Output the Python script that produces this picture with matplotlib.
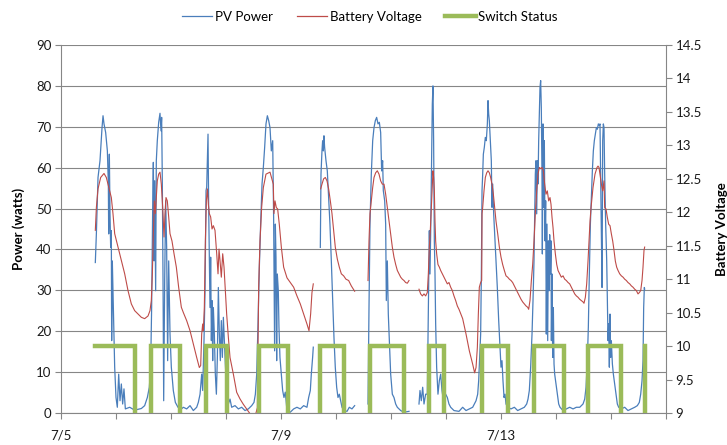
import numpy as np
import matplotlib
matplotlib.use("Agg")
import matplotlib.pyplot as plt
from matplotlib.lines import Line2D

plt.rcParams['font.family'] = ['Lato', 'DejaVu Sans']

NAN = float('nan')

# ── Data (time in days after 7/5 00:00) ────────────────────────────────────
pv_day = [
    0.624, 0.643, 0.673, 0.709, 0.746, 0.764, 0.782, 0.812, 0.843, 0.861,
    0.867, 0.879, 0.891, 0.903, 0.915, 0.921, 0.933, 0.952, 0.976, 1.000,
    1.024, 1.049, 1.073, 1.097, 1.121, 1.145, 1.170, 1.249, 1.339, 1.461,
    1.521, 1.570, 1.606, 1.630, 1.648, 1.667, 1.679, 1.691, 1.703, 1.721,
    1.733, 1.751, 1.776, 1.800, 1.818, 1.830, 1.842, 1.855, 1.867, 1.885,
    1.903, 1.921, 1.939, 1.958, 1.982, 2.006, 2.042, 2.079, 2.127, 2.188,
    2.225, 2.285, 2.346, 2.406, 2.467, 2.497, 2.528, 2.558, 2.576, 2.600,
    2.619, 2.637, 2.649, 2.661, 2.673, 2.685, 2.697, 2.709, 2.721, 2.734,
    2.746, 2.758, 2.770, 2.788, 2.806, 2.825, 2.843, 2.861, 2.879, 2.897,
    2.915, 2.934, 2.952, 2.970, 2.988, 3.012, 3.043, 3.073, 3.103, 3.164,
    3.225, 3.285, 3.346, 3.406, 3.467, 3.509, 3.534, 3.558, 3.582, 3.606,
    3.630, 3.655, 3.679, 3.703, 3.727, 3.752, 3.776, 3.800, 3.824, 3.849,
    3.866, 3.884, 3.897, 3.909, 3.921, 3.933, 3.951, 3.963, 3.981, 4.006,
    4.030, 4.054, 4.078, 4.109, 4.169, 4.230, 4.290, 4.351, 4.412, 4.472,
    4.503, 4.533, 4.551, 4.575, 4.587, 4.650,
    4.715, 4.727, 4.745, 4.757, 4.769, 4.781, 4.793, 4.818, 4.842, 4.866,
    4.890, 4.915, 4.939, 4.963, 4.987, 5.012, 5.036, 5.060, 5.084, 5.109,
    5.145, 5.200, 5.242, 5.290, 5.339, 5.460,
    5.582, 5.600, 5.618, 5.642, 5.667, 5.691, 5.715, 5.739, 5.764, 5.788,
    5.812, 5.830, 5.848, 5.860, 5.885, 5.903, 5.915, 5.933, 5.951, 5.970,
    5.994, 6.024, 6.054, 6.085, 6.115, 6.176, 6.236, 6.327, 6.420,
    6.509, 6.527, 6.551, 6.576, 6.600, 6.630, 6.660, 6.679, 6.697, 6.709,
    6.721, 6.739, 6.751, 6.763, 6.775, 6.788, 6.800, 6.812, 6.830, 6.854,
    6.879, 6.903, 6.927, 6.963, 6.994, 7.024, 7.054, 7.085, 7.145, 7.236,
    7.303, 7.364, 7.424, 7.485, 7.515, 7.546, 7.576, 7.594, 7.612, 7.630,
    7.643, 7.655, 7.667, 7.679, 7.697, 7.715, 7.733, 7.752, 7.764, 7.776,
    7.788, 7.806, 7.824, 7.836, 7.849, 7.867, 7.885, 7.909, 7.933, 7.958,
    7.982, 8.000, 8.018, 8.036, 8.055, 8.073, 8.091, 8.121, 8.182, 8.243,
    8.303, 8.364, 8.424, 8.467, 8.491, 8.515, 8.539, 8.564, 8.582, 8.600,
    8.612, 8.624, 8.636, 8.649, 8.661, 8.673, 8.685, 8.697, 8.709, 8.721,
    8.733, 8.745, 8.752, 8.764, 8.776, 8.788, 8.800, 8.812, 8.824, 8.836,
    8.849, 8.861, 8.873, 8.885, 8.897, 8.909,
    8.916, 8.928, 8.940, 8.952, 8.964, 8.976, 9.000, 9.025, 9.049, 9.073,
    9.128, 9.188, 9.249, 9.310, 9.370, 9.431, 9.491, 9.522, 9.546, 9.570,
    9.588, 9.606, 9.625, 9.643, 9.661, 9.679, 9.697, 9.716, 9.734, 9.752,
    9.770, 9.788, 9.800, 9.812, 9.825, 9.837, 9.849, 9.861, 9.873, 9.885,
    9.903, 9.922, 9.934, 9.946, 9.958, 9.970, 9.982, 9.994, 10.006, 10.025,
    10.043, 10.067, 10.091, 10.115, 10.140, 10.188, 10.249, 10.309, 10.370, 10.431,
    10.479, 10.515, 10.540, 10.564, 10.582, 10.594, 10.606, 10.612,
]
pv_watts = [
    36.8, 43.8, 57.6, 61.7, 69.8, 72.7, 70.7, 68.6, 64.1, 56.0,
    43.8, 63.3, 48.7, 40.5, 44.6, 17.7, 37.2, 25.8, 11.2, 3.8,
    1.4, 9.5, 3.0, 7.1, 2.2, 5.9, 1.0, 1.4, 0.7, 1.1,
    1.8, 3.8, 6.3, 11.2, 25.8, 50.3, 61.3, 37.2, 56.8, 29.9,
    61.7, 66.6, 71.1, 73.3, 69.0, 72.3, 56.8, 32.4, 3.0, 32.4,
    51.9, 40.5, 12.8, 37.2, 19.3, 11.2, 5.5, 2.6, 1.4, 1.0,
    1.4, 1.0, 1.8, 0.6, 1.4, 2.6, 4.6, 9.5, 5.5, 17.7,
    29.9, 54.4, 55.2, 61.7, 68.2, 50.3, 38.1, 25.8, 38.1, 17.7,
    27.5, 12.8, 25.8, 19.3, 9.5, 4.6, 13.6, 30.7, 19.3, 12.8,
    22.6, 13.6, 23.4, 17.7, 12.0, 5.5, 2.2, 3.4, 1.4, 1.8,
    1.0, 1.4, 0.6, 1.0, 1.8, 2.6, 4.6, 9.5, 21.8, 35.6,
    46.2, 56.0, 60.1, 65.0, 70.7, 72.7, 71.5, 69.8, 64.1, 66.6,
    47.8, 15.2, 46.2, 38.0, 12.8, 34.0, 29.9, 21.0, 13.6, 9.5,
    5.5, 3.8, 5.1, 0.6, 0.2, 1.0, 1.4, 1.0, 1.8, 1.4,
    3.8, 5.5, 9.5, 13.6, 16.1, NAN,
    40.5, 58.4, 64.1, 66.6, 64.1, 67.8, 65.0, 61.7, 59.2, 52.7,
    46.2, 37.2, 27.5, 18.5, 11.2, 6.3, 3.8, 4.6, 3.0, 1.4,
    0.6, 0.4, 1.4, 1.0, 1.8, NAN,
    2.2, 25.8, 46.2, 58.4, 66.6, 69.8, 71.5, 72.3, 70.7, 71.1,
    68.6, 59.2, 61.7, 54.4, 51.9, 46.2, 27.5, 37.2, 24.2, 17.7,
    9.5, 4.6, 3.8, 2.2, 1.4, 0.6, 0.2, 0.4, NAN,
    2.2, 5.5, 3.0, 6.3, 2.2, 4.6, 4.6, 25.8, 44.6, 34.0,
    43.8, 62.5, 75.5, 80.0, 66.6, 42.1, 34.0, 21.8, 11.2, 4.6,
    7.9, 9.5, 5.5, 2.2, 4.6, 3.8, 2.2, 1.4, 0.6, 0.4,
    1.4, 0.6, 1.0, 1.4, 2.2, 3.0, 4.6, 7.9, 13.6, 19.3,
    34.0, 54.4, 58.4, 63.3, 65.0, 67.4, 66.6, 70.7, 76.4, 73.1,
    71.5, 66.6, 61.7, 50.3, 56.0, 48.7, 43.8, 37.2, 30.7, 22.6,
    16.1, 11.2, 12.8, 7.9, 3.8, 4.6, 2.2, 1.4, 1.0, 1.4,
    0.6, 1.0, 1.4, 2.2, 3.4, 5.5, 11.2, 19.3, 27.5, 37.2,
    48.7, 58.4, 61.7, 48.7, 61.7, 56.0, 66.6, 73.1, 79.6, 81.3,
    74.7, 58.4, 38.9, 70.7, 50.3, 66.6, 42.1, 51.9, 19.3, 46.2,
    17.7, 42.1, 29.9, 43.6, 34.0, 42.1,
    17.7, 34.0, 13.6, 25.8, 12.0, 9.5, 7.1, 4.6, 2.2, 1.4,
    0.6, 1.0, 1.4, 1.0, 1.4, 1.4, 2.2, 3.4, 6.3, 12.8,
    21.0, 34.0, 46.2, 52.7, 59.2, 64.1, 66.6, 68.2, 69.8, 69.4,
    70.7, 70.3, 70.7, 58.4, 43.8, 30.7, 66.6, 70.7, 69.8, 58.4,
    46.2, 37.2, 27.5, 17.7, 21.8, 11.2, 24.2, 13.6, 17.7, 12.0,
    9.5, 7.1, 4.6, 2.2, 1.4, 1.0, 1.4, 0.6, 1.0, 1.4,
    1.8, 2.6, 4.6, 7.9, 12.8, 25.8, 30.7, 30.3,
]

batt_day = [
    0.624, 0.643, 0.673, 0.721, 0.782, 0.824, 0.855, 0.885, 0.915, 0.945,
    0.976, 1.036, 1.097, 1.158, 1.218, 1.279, 1.339, 1.400, 1.461, 1.521,
    1.582, 1.618, 1.642, 1.661, 1.679, 1.697, 1.715, 1.733, 1.751, 1.776,
    1.800, 1.824, 1.849, 1.873, 1.891, 1.909, 1.933, 1.958, 1.982, 2.018,
    2.055, 2.097, 2.139, 2.188,
    2.225, 2.285, 2.346, 2.406, 2.467, 2.515, 2.540, 2.558, 2.576, 2.588,
    2.606, 2.625, 2.643, 2.661, 2.679, 2.697, 2.721, 2.746, 2.770, 2.800,
    2.831, 2.855, 2.873, 2.891, 2.915, 2.940, 2.964, 2.988, 3.012, 3.043,
    3.073, 3.134, 3.194, 3.255, 3.315, 3.376, 3.418, 3.470, 3.530, 3.570,
    3.594, 3.618, 3.648, 3.679, 3.727, 3.800,
    3.860, 3.872, 3.891, 3.915, 3.939, 3.969, 4.006, 4.048, 4.109, 4.169,
    4.230, 4.290, 4.351, 4.412, 4.472, 4.509, 4.539, 4.563, 4.587, 4.650,
    4.721, 4.745, 4.775, 4.806, 4.836, 4.866, 4.897, 4.927, 4.957, 4.987,
    5.024, 5.060, 5.097, 5.139, 5.181, 5.230, 5.278, 5.339, 5.460,
    5.582, 5.600, 5.618, 5.642, 5.667, 5.691, 5.721, 5.751, 5.782, 5.812,
    5.842, 5.873, 5.903, 5.933, 5.964, 5.994, 6.024, 6.054, 6.085, 6.115,
    6.145, 6.176, 6.206, 6.236, 6.266, 6.297, 6.327, 6.420,
    6.509, 6.539, 6.570, 6.600, 6.630, 6.660, 6.679, 6.697, 6.715, 6.733,
    6.751, 6.763, 6.775, 6.788, 6.800, 6.812, 6.830, 6.854, 6.879, 6.903,
    6.933, 6.963, 6.994, 7.024, 7.054, 7.085, 7.115, 7.145, 7.176, 7.206,
    7.236,
    7.303, 7.364, 7.424, 7.485, 7.521, 7.546, 7.570, 7.588, 7.606, 7.630,
    7.649, 7.655, 7.667, 7.691, 7.715, 7.740, 7.764, 7.788, 7.812, 7.836,
    7.861, 7.885, 7.909, 7.940, 7.970, 8.000, 8.030, 8.061, 8.091, 8.121,
    8.152, 8.182, 8.212, 8.243, 8.273, 8.303, 8.333, 8.364, 8.394, 8.424,
    8.455, 8.485, 8.503, 8.527, 8.552, 8.576, 8.600, 8.624, 8.649, 8.673,
    8.697, 8.721, 8.745, 8.770, 8.794, 8.818, 8.842, 8.867, 8.891, 8.909,
    8.928, 8.946, 8.964, 8.988, 9.013, 9.037, 9.067, 9.097, 9.128, 9.158,
    9.188, 9.219, 9.249, 9.279, 9.310, 9.340, 9.370, 9.400, 9.431, 9.461,
    9.491, 9.509, 9.534, 9.558, 9.582, 9.600, 9.619, 9.637, 9.655, 9.673,
    9.691, 9.709, 9.728, 9.746, 9.764, 9.782, 9.800, 9.825, 9.849, 9.873,
    9.885, 9.909, 9.934, 9.958, 9.982, 10.006, 10.031, 10.055, 10.079, 10.103,
    10.128, 10.158, 10.188, 10.219, 10.249, 10.279, 10.309, 10.340, 10.370, 10.400,
    10.431, 10.461, 10.491, 10.515, 10.540, 10.564, 10.582, 10.600, 10.612,
]
batt_volts = [
    11.73, 12.07, 12.35, 12.52, 12.58, 12.52, 12.42, 12.32, 12.22, 11.98,
    11.68, 11.48, 11.28, 11.08, 10.83, 10.63, 10.53, 10.48, 10.43, 10.41,
    10.45, 10.53, 10.68, 11.08, 11.68, 12.17, 11.98, 12.22, 12.47, 12.57,
    12.60, 12.42, 12.07, 11.63, 11.98, 12.22, 12.17, 11.93, 11.68, 11.57,
    11.38, 11.18, 10.88, 10.58,
    10.50, 10.38, 10.23, 10.03, 9.83, 9.68, 9.71, 10.18, 10.33, 10.23,
    10.58, 11.57, 12.17, 12.35, 12.12, 11.98, 11.93, 11.75, 11.80, 11.73,
    11.38, 11.08, 11.45, 11.28, 11.03, 11.38, 11.18, 10.83, 10.48, 10.13,
    9.83, 9.58, 9.31, 9.21, 9.13, 9.06, 9.01, 8.95, 8.95, 9.08,
    10.88, 11.57, 12.07, 12.37, 12.57, 12.60,
    12.42, 11.98, 12.17, 12.07, 12.05, 11.82, 11.48, 11.18, 11.02, 10.95,
    10.88, 10.75, 10.63, 10.48, 10.33, 10.23, 10.48, 10.80, 10.93, NAN,
    12.35, 12.42, 12.50, 12.52, 12.47, 12.35, 12.17, 11.98, 11.73, 11.48,
    11.30, 11.18, 11.08, 11.05, 11.00, 10.98, 10.90, 10.82, NAN,
    10.98, 11.57, 11.98, 12.17, 12.37, 12.52, 12.59, 12.62, 12.57, 12.47,
    12.42, 12.42, 12.27, 12.07, 11.87, 11.68, 11.48, 11.33, 11.22, 11.13,
    11.08, 11.03, 11.00, 10.98, 10.95, 10.94, 10.98, NAN,
    10.85, 10.78, 10.75, 10.78, 10.75, 10.80, 11.08, 11.48, 11.73, 12.07,
    12.42, 12.62, 12.52, 12.32, 11.87, 11.57, 11.38, 11.22, 11.18, 11.13,
    11.08, 11.03, 10.98, 10.93, 10.95, 10.88, 10.83, 10.75, 10.68, 10.60,
    10.55,
    10.41, 10.18, 9.93, 9.73, 9.60, 9.68, 9.98, 10.48, 10.88, 10.95,
    10.98, 11.98, 12.07, 12.32, 12.52, 12.59, 12.62, 12.59, 12.52, 12.42,
    12.27, 12.07, 11.87, 11.68, 11.48, 11.33, 11.22, 11.13, 11.05, 11.03,
    11.00, 10.98, 10.95, 10.90, 10.85, 10.80, 10.75, 10.70, 10.66, 10.63,
    10.60, 10.58, 10.55, 10.68, 10.98, 11.22, 11.57, 11.98, 12.32, 12.57,
    12.67, 12.65, 12.67, 12.62, 12.42, 12.27, 12.32, 12.17, 12.22, 12.12,
    11.92, 11.77, 11.57, 11.38, 11.22, 11.13, 11.08, 11.03, 11.05, 11.00,
    10.98, 10.95, 10.93, 10.88, 10.83, 10.78, 10.75, 10.73, 10.70, 10.68,
    10.66, 10.64, 10.73, 10.93, 11.27, 11.57, 11.87, 12.07, 12.22, 12.37,
    12.47, 12.57, 12.62, 12.67, 12.69, 12.67, 12.57, 12.42, 12.32, 12.47,
    12.07, 12.05, 11.92, 11.82, 11.80, 11.68, 11.57, 11.43, 11.27, 11.18,
    11.13, 11.08, 11.05, 11.03, 11.00, 10.98, 10.95, 10.93, 10.90, 10.88,
    10.85, 10.83, 10.78, 10.80, 10.83, 10.98, 11.18, 11.43, 11.48,
]

switch_day = [0.624, 1.352, 1.642, 2.160, 2.637, 3.024, 3.594, 4.127, 4.703, 5.139,
              5.612, 6.236, 6.691, 6.963, 7.655, 8.121, 8.594, 9.140, 9.582, 10.188,
              10.612]
switch_on = [1, 0, 1, 0, 1, 0, 1, 0, 1, 0,
             1, 0, 1, 0, 1, 0, 1, 0, 1, 0,
             1]

tick_days = list(range(12))
tick_labels = ['7/5', '', '', '', '7/9', '', '', '', '7/13', '', '', '']

# ── Style ──────────────────────────────────────────────────────────────────
BLUE = '#4A7EBB'
RED = '#BE4B48'
GREEN = '#9BBB59'
GRAY = '#868686'
SWITCH_ON_V = 10.0   # level of the "on" state on the voltage axis

fig = plt.figure(figsize=(7.27, 4.45), dpi=100)
ax = fig.add_axes([61 / 727, 1 - 413 / 445, 605 / 727, 368 / 445])
ax2 = ax.twinx()

ax.plot(pv_day, pv_watts, color=BLUE, lw=0.9)
ax2.plot(batt_day, batt_volts, color=RED, lw=0.8)
levels = np.where(np.array(switch_on) == 1, SWITCH_ON_V, 0.0)
ax2.step(switch_day, levels, where='post', color=GREEN, lw=3.2, solid_joinstyle='miter')

ax.set_xlim(0, 11)
ax.set_ylim(0, 90)
ax2.set_ylim(9, 14.5)
ax.set_yticks(np.arange(0, 91, 10))
ax2.set_yticks(np.arange(9, 14.51, 0.5))
ax2.set_yticklabels([f"{v:g}" for v in np.arange(9, 14.51, 0.5)])
ax.set_xticks(tick_days)
ax.set_xticklabels(tick_labels)

ax.yaxis.grid(True, color=GRAY, lw=0.8)
ax.set_axisbelow(True)

for a in (ax, ax2):
    a.spines['top'].set_visible(False)
    for s in a.spines.values():
        s.set_color(GRAY)
        s.set_linewidth(0.8)
ax.spines['right'].set_visible(False)
ax2.spines['left'].set_visible(False)
ax2.spines['bottom'].set_visible(False)

ax.tick_params(axis='both', direction='out', length=4, width=0.8, color=GRAY,
               labelsize=9.5, labelcolor='#1a1a1a', pad=3)
ax2.tick_params(axis='y', direction='out', length=4, width=0.8, color=GRAY,
                labelsize=9.5, labelcolor='#1a1a1a', pad=3)
ax.tick_params(axis='x', pad=8)

ax.set_ylabel('Power (watts)', fontsize=9.5, fontweight='bold', labelpad=8)
ax2.set_ylabel('Battery Voltage', fontsize=9.5, fontweight='bold', rotation=90, labelpad=10)

handles = [Line2D([], [], color=BLUE, lw=0.9),
           Line2D([], [], color=RED, lw=0.9),
           Line2D([], [], color=GREEN, lw=3.2)]
fig.legend(handles, ['PV Power', 'Battery Voltage', 'Switch Status'],
           loc='center', bbox_to_anchor=(370 / 727, 1 - 17 / 445), ncol=3,
           frameon=False, fontsize=9.5, handlelength=2.3, handletextpad=0.2,
           columnspacing=1.8)

fig.savefig('out.png', dpi=100)
